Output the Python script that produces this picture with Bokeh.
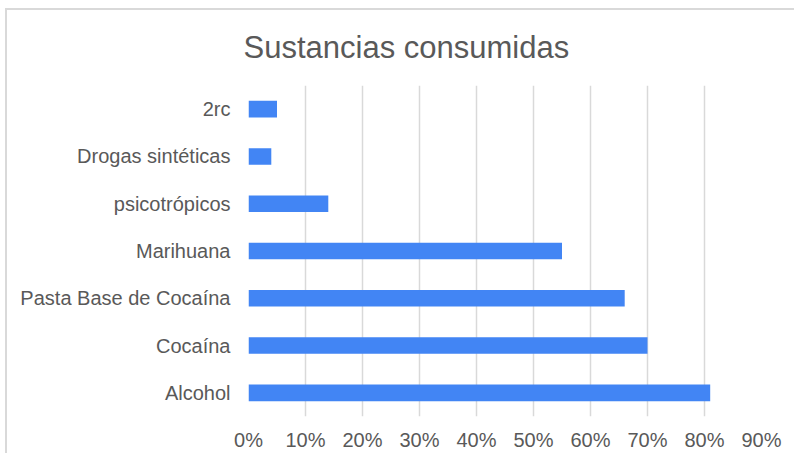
from bokeh.plotting import figure
from bokeh.models import FactorRange, Range1d, NumeralTickFormatter, FixedTicker, ColumnDataSource
from bokeh.embed import file_html
from bokeh.resources import INLINE

categories = ["Alcohol", "Cocaína", "Pasta Base de Cocaína", "Marihuana",
              "psicotrópicos", "Drogas sintéticas", "2rc"]
values = [0.81, 0.70, 0.66, 0.55, 0.14, 0.04, 0.05]
x_ticks = [0.0, 0.1, 0.2, 0.3, 0.4, 0.5, 0.6, 0.7, 0.8, 0.9]
title_text = "Sustancias consumidas"

TEXT = "#595959"
FONT = "Liberation Sans"

src = ColumnDataSource(dict(cat=categories, val=values))

p = figure(width=789, height=445, output_backend="svg", toolbar_location=None,
           y_range=FactorRange(factors=categories, range_padding=0),
           x_range=Range1d(0, 0.9),
           min_border_left=241, min_border_right=35,
           min_border_top=75, min_border_bottom=39)

p.hbar(y="cat", right="val", left=0, height=0.35, source=src,
       fill_color="#4285F4", line_color=None)

p.title.text = title_text
p.title.text_font = FONT
p.title.text_font_size = "31px"
p.title.text_font_style = "normal"
p.title.text_color = TEXT
p.title.align = "left"
p.title.offset = -5
p.title.standoff = 37
p.title.vertical_align = "top"

p.outline_line_color = None
p.background_fill_color = "white"
p.border_fill_color = "white"

p.xgrid.grid_line_color = "#d9d9d9"
p.xgrid.grid_line_width = 1.5
p.ygrid.grid_line_color = None

p.xaxis.ticker = FixedTicker(ticks=x_ticks)
p.xaxis.formatter = NumeralTickFormatter(format="0%")
p.xaxis.axis_line_color = None
p.xaxis.major_tick_line_color = None
p.xaxis.minor_tick_line_color = None
p.xaxis.major_label_text_font = FONT
p.xaxis.major_label_text_font_size = "20px"
p.xaxis.major_label_text_color = TEXT
p.xaxis.major_label_standoff = 6

p.yaxis.axis_line_color = None
p.yaxis.major_tick_line_color = None
p.yaxis.minor_tick_line_color = None
p.yaxis.major_label_text_font = FONT
p.yaxis.major_label_text_font_size = "20px"
p.yaxis.major_label_text_color = TEXT
p.yaxis.major_label_standoff = 12

p.styles = {"border-left": "2px solid #d9d9d9", "border-top": "2px solid #d9d9d9",
            "margin-left": "5px", "margin-top": "8px"}

open("out.html", "w").write(file_html(p, INLINE))
